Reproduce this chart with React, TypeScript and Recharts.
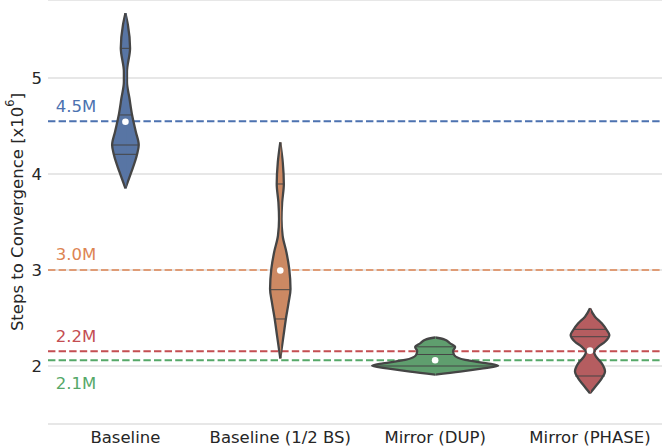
import {
  ComposedChart,
  Area,
  XAxis,
  YAxis,
  CartesianGrid,
  ReferenceLine,
  ReferenceDot,
} from "recharts";

const categories = ["Baseline", "Baseline (1/2 BS)", "Mirror (DUP)", "Mirror (PHASE)"];
const violinFill = ["#5875A4", "#CC8963", "#5F9E6E", "#B55D60"];

// violin outlines: steps (x10^6) and half width (category units)
const baselineSteps = [3.851, 4.024, 4.198, 4.302, 4.441, 4.615, 4.789, 4.961, 5.066, 5.309, 5.552, 5.674];
const baselineWidth = [0, 0.039, 0.074, 0.086, 0.067, 0.043, 0.026, 0.01, 0.01, 0.03, 0.016, 0];
const halfBsSteps = [2.079, 2.316, 2.49, 2.663, 2.802, 3.01, 3.183, 3.357, 3.531, 3.704, 3.896, 4.121, 4.329];
const halfBsWidth = [0, 0.021, 0.036, 0.054, 0.066, 0.058, 0.04, 0.015, 0.008, 0.012, 0.023, 0.016, 0];
const dupSteps = [1.911, 1.941, 1.976, 2.003, 2.028, 2.063, 2.115, 2.156, 2.198, 2.236, 2.278, 2.297];
const dupWidth = [0, 0.161, 0.31, 0.407, 0.336, 0.194, 0.123, 0.116, 0.129, 0.097, 0.058, 0];
const phaseSteps = [1.716, 1.802, 1.872, 1.941, 2.028, 2.097, 2.149, 2.201, 2.253, 2.323, 2.375, 2.445, 2.514, 2.601];
const phaseWidth = [0, 0.043, 0.076, 0.097, 0.076, 0.039, 0.026, 0.054, 0.097, 0.125, 0.108, 0.076, 0.032, 0];

// inner quartile lines
const innerSteps = [
  [4.205, 4.302, 4.615, 5.309],
  [2.49, 2.795, 3.896],
  [2.0, 2.12, 2.2],
  [1.896, 2.305, 2.382],
];
const innerWidth = [
  [0.073, 0.086, 0.043, 0.03],
  [0.036, 0.066, 0.023],
  [0.4, 0.12, 0.125],
  [0.096, 0.118, 0.107],
];
const meanSteps = [4.545, 2.995, 2.06, 2.16];

// dashed reference levels
const levelSteps = [4.55, 3.0, 2.155, 2.06];
const levelColors = ["#4C72B0", "#DD8452", "#C44E52", "#55A868"];
const levelLabels = ["4.5M", "3.0M", "2.2M", "2.1M"];
const levelLabelSteps = [4.65, 3.1, 2.255, 1.76];
const levelLabelX = -0.45;

const outlines = [
  [baselineSteps, baselineWidth],
  [halfBsSteps, halfBsWidth],
  [dupSteps, dupWidth],
  [phaseSteps, phaseWidth],
];

const data: any[] = [];
outlines.forEach(([steps, width], i) => {
  steps.forEach((s, j) => {
    data.push({ y: s, ["r" + i]: i + width[j], ["l" + i]: i - width[j] });
  });
});

const font = "DejaVu Sans";
const gray = "#454545";

const YLabel = (props: any) => {
  const vb = props.viewBox;
  const cy = vb.y + vb.height / 2;
  return (
    <text
      x={17}
      y={cy}
      transform={`rotate(-90, 17, ${cy})`}
      textAnchor="middle"
      dominantBaseline="central"
      fontFamily={font}
      fontSize={16.5}
      fill="#262626"
    >
      Steps to Convergence [x10
      <tspan dy={-7} fontSize={11.5}>6</tspan>
      <tspan dy={7}>]</tspan>
    </text>
  );
};

export default function App() {
  return (
    <div style={{ position: "absolute", left: 0, top: 0, background: "#fff" }}>
      <ComposedChart
        width={662}
        height={446}
        data={data}
        layout="vertical"
        margin={{ top: 0, right: 0, bottom: 0, left: 0 }}
      >
        <CartesianGrid horizontal vertical={false} stroke="#d0d0d0" strokeWidth={1.2} />
        <XAxis
          type="number"
          dataKey="x"
          domain={[-0.5, 3.465]}
          allowDataOverflow
          ticks={[0, 1, 2, 3]}
          tickFormatter={(v) => categories[v]}
          axisLine={false}
          tickLine={false}
          tickSize={5}
          height={22}
          tick={{ fontFamily: font, fontSize: 16.5, fill: "#262626" }}
        />
        <YAxis
          type="number"
          dataKey="y"
          reversed
          domain={[1.396, 5.8125]}
          allowDataOverflow
          ticks={[2, 3, 4, 5]}
          axisLine={false}
          tickLine={false}
          tickMargin={0}
          width={48}
          tick={{ fontFamily: font, fontSize: 16.5, fill: "#262626" }}
          label={<YLabel />}
        />
        {levelSteps.map((s, i) => (
          <ReferenceLine
            key={"lvl" + i}
            y={s}
            stroke={levelColors[i]}
            strokeWidth={i === 1 ? 1.4 : 2}
            strokeDasharray="7.4 3.2"
            zIndex={50}
          />
        ))}
        {outlines.map((_, i) => [
          <Area
            key={"r" + i}
            dataKey={"r" + i}
            type="monotone"
            baseValue={i - 0.006}
            connectNulls
            fill={violinFill[i]}
            fillOpacity={1}
            stroke={gray}
            strokeWidth={2.3}
            dot={false}
            activeDot={false}
            isAnimationActive={false}
          />,
          <Area
            key={"l" + i}
            dataKey={"l" + i}
            type="monotone"
            baseValue={i + 0.006}
            connectNulls
            fill={violinFill[i]}
            fillOpacity={1}
            stroke={gray}
            strokeWidth={2.3}
            dot={false}
            activeDot={false}
            isAnimationActive={false}
          />,
        ])}
        {innerSteps.map((list, i) =>
          list.map((s, j) => (
            <ReferenceLine
              key={"q" + i + "-" + j}
              segment={[
                { x: i - innerWidth[i][j], y: s },
                { x: i + innerWidth[i][j], y: s },
              ]}
              stroke={gray}
              strokeWidth={1}
              zIndex={700}
            />
          ))
        )}
        {meanSteps.map((m, i) => (
          <ReferenceDot key={"m" + i} x={i} y={m} r={3.3} fill="#ffffff" stroke="none" zIndex={800} />
        ))}
        {levelLabels.map((t, i) => (
          <ReferenceDot
            key={"t" + i}
            x={levelLabelX}
            y={levelLabelSteps[i]}
            r={0}
            zIndex={900}
            shape={(p: any) => (
              <text x={p.cx} y={p.cy} fill={levelColors[i]} fontFamily={font} fontSize={16.5}>
                {t}
              </text>
            )}
          />
        ))}
      </ComposedChart>
    </div>
  );
}
